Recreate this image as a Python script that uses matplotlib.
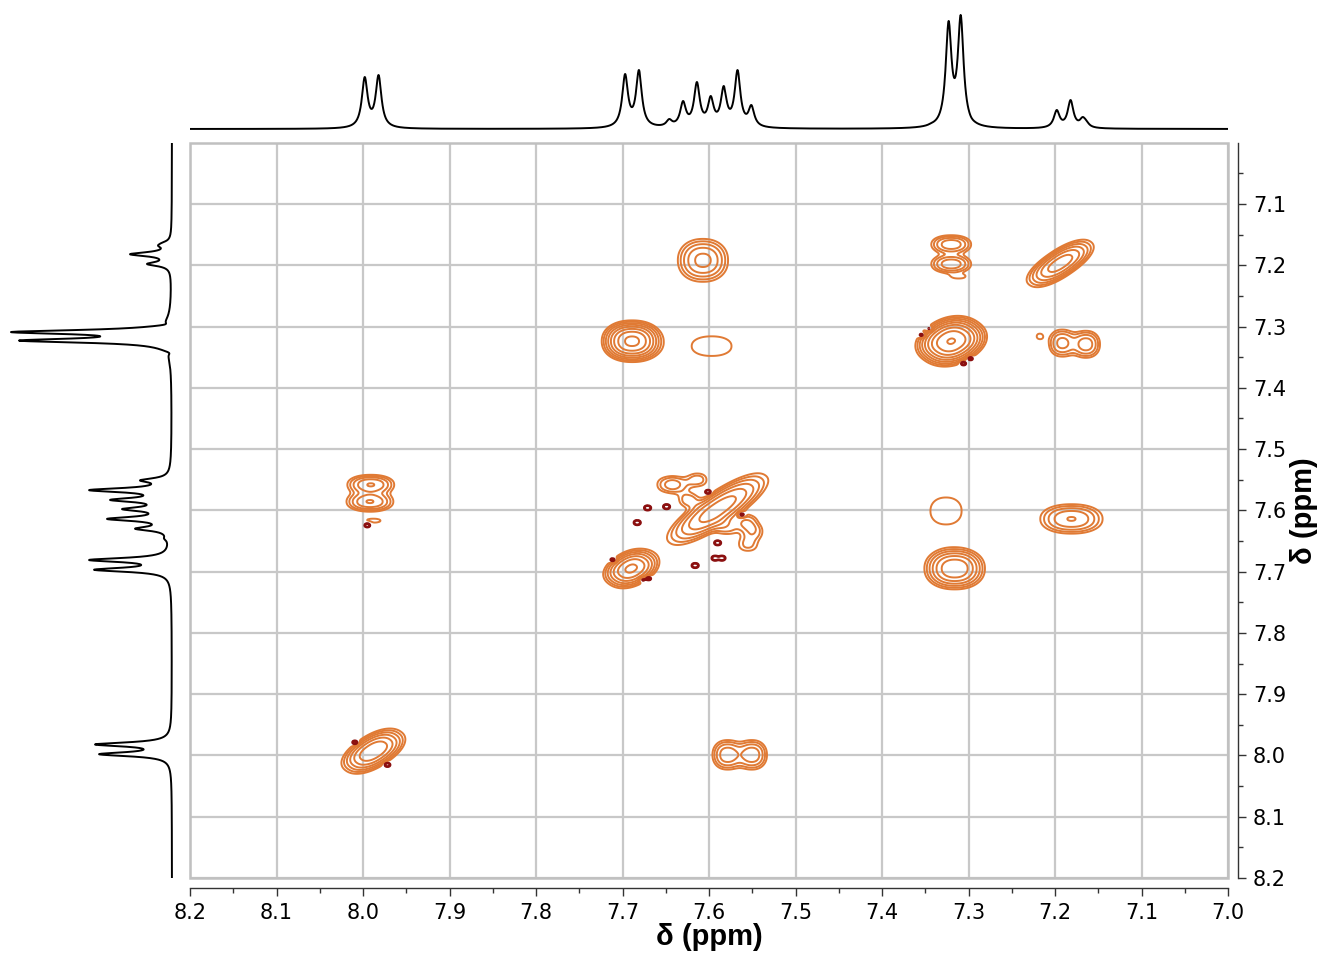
import numpy as np
import matplotlib
matplotlib.use("Agg")
import matplotlib.pyplot as plt
from matplotlib.patches import Rectangle

W, H = 1318, 961

# ---- 1D projections: line positions (ppm) and heights (px)
proj_ppm = [7.998, 7.982, 7.697, 7.681, 7.646, 7.630, 7.614, 7.598, 7.583,
            7.567, 7.551, 7.343, 7.323, 7.309, 7.297, 7.198, 7.182, 7.168, 7.164]
top_heights = [52, 54, 55, 59, 10, 28, 47, 33, 43, 59, 24, 6, 108, 114, 12,
               19, 29, 12, 9]
left_heights = [73, 77, 78, 83, 8, 37, 65, 50, 62, 83, 32, 3, 153, 161, 8,
                25, 42, 14, 11]
line_hwhm = 0.004

# ---- 2D COSY peaks (positive): F2, F1, amplitude, half-size along/across, diagonal
pos_f2 = [7.988, 7.690, 7.590, 7.320, 7.194,
          7.689, 7.607, 7.597, 7.320, 7.320, 7.311, 7.192, 7.164, 7.218,
          7.181, 7.326, 7.991, 7.992, 7.988, 7.579, 7.550, 7.316,
          7.649, 7.636, 7.624, 7.613, 7.579, 7.556, 7.549, 7.555]
pos_f1 = [7.993, 7.695, 7.598, 7.324, 7.197,
          7.324, 7.192, 7.332, 7.166, 7.198, 7.219, 7.327, 7.329, 7.316,
          7.614, 7.601, 7.558, 7.586, 7.617, 7.999, 7.999, 7.695,
          7.558, 7.558, 7.583, 7.550, 7.628, 7.619, 7.635, 7.656]
pos_amp = [9, 10, 8, 20, 8,
           15, 5, 1.25, 4, 4, 1.1, 3.5, 3.8, 1.15,
           4.5, 1.3, 4.5, 4.5, 1.1, 4, 4, 9,
           1.6, 1.6, 1.8, 1.8, 1.6, 2.0, 1.8, 1.6]
pos_hu = [0.045, 0.036, 0.078, 0.044, 0.050,
          0.035, 0.029, 0.023, 0.023, 0.023, 0.005, 0.015, 0.016, 0.003,
          0.036, 0.018, 0.027, 0.027, 0.008, 0.017, 0.017, 0.035,
          0.010, 0.010, 0.010, 0.010, 0.010, 0.011, 0.010, 0.010]
pos_hv = [0.024, 0.026, 0.024, 0.036, 0.020,
          0.034, 0.035, 0.016, 0.015, 0.015, 0.002, 0.022, 0.022, 0.004,
          0.024, 0.022, 0.016, 0.016, 0.003, 0.024, 0.024, 0.034,
          0.010, 0.010, 0.010, 0.010, 0.010, 0.011, 0.010, 0.010]
pos_diag = [1, 1, 1, 1, 1,
            0, 0, 0, 0, 0, 0, 0, 0, 0,
            0, 0, 0, 0, 0, 0, 0, 0,
            0, 0, 0, 0, 0, 0, 0, 0]

# ---- small negative (dark red) artefacts
neg_f2 = [7.711, 7.677, 7.670, 7.601, 7.649, 7.671, 7.683, 7.562, 7.590,
          7.616, 7.593, 7.585, 7.354, 7.345, 7.306, 7.298, 8.009, 7.972, 7.995]
neg_f1 = [7.681, 7.713, 7.711, 7.570, 7.594, 7.596, 7.620, 7.607, 7.653,
          7.690, 7.678, 7.678, 7.314, 7.304, 7.360, 7.352, 7.979, 8.015, 7.624]
neg_amp = [3.0] * len(neg_f2)
neg_half = [0.004] * len(neg_f2)

SHAPE_P = 2.2
levels = 1.45 ** np.arange(9)
orange = "#E07A34"
darkred = "#8B1010"
gridgray = "#C8C8C8"


def lorentz(x, x0, g):
    return 1.0 / (1.0 + ((x - x0) / g) ** 2)


def projection(axis_ppm, heights):
    pos = np.array(proj_ppm)
    m = lorentz(pos[:, None], pos[None, :], line_hwhm)
    amps = np.linalg.solve(m, np.array(heights, float))
    spec = np.zeros_like(axis_ppm)
    for a, p in zip(amps, pos):
        spec += a * lorentz(axis_ppm, p, line_hwhm)
    return spec


def peak_field(X, Y, f2, f1, amp, hu, hv, diag):
    Z = np.zeros_like(X)
    for x0, y0, a, u0, v0, d in zip(f2, f1, amp, hu, hv, diag):
        dx, dy = X - x0, Y - y0
        if d:
            u, v = (dx + dy) / np.sqrt(2), (dx - dy) / np.sqrt(2)
        else:
            u, v = dx, dy
        k = np.log(abs(a)) ** (1.0 / SHAPE_P)
        su, sv = u0 / k, v0 / k
        Z += a * np.exp(-(np.abs(u / su) ** SHAPE_P + np.abs(v / sv) ** SHAPE_P))
    return Z


def px_rect(x0, y0, x1, y1):
    return [x0 / W, 1 - y1 / H, (x1 - x0) / W, (y1 - y0) / H]


fig = plt.figure(figsize=(W / 100, H / 100), dpi=100)

# main 2D panel
ax = fig.add_axes(px_rect(190, 142.7, 1228, 878))
g = np.linspace(7.0, 8.2, 1000)
X, Y = np.meshgrid(g, g)
Z = peak_field(X, Y, pos_f2, pos_f1, pos_amp, pos_hu, pos_hv, pos_diag)
Z -= peak_field(X, Y, neg_f2, neg_f1, neg_amp, neg_half, neg_half,
                [0] * len(neg_f2))
ax.contour(X, Y, Z, levels=levels, colors=orange, linewidths=1.4)
ax.contour(X, Y, Z, levels=-levels[:2][::-1], colors=darkred,
           linewidths=1.6, linestyles="solid")

ax.set_xlim(8.2, 7.0)
ax.set_ylim(8.2, 7.0)
ax.set_xticks(np.round(np.arange(7.0, 8.21, 0.1), 1))
ax.set_xticks(np.round(np.arange(7.05, 8.2, 0.1), 2), minor=True)
ax.set_yticks(np.round(np.arange(7.1, 8.21, 0.1), 1))
ax.set_yticks(np.round(np.arange(7.05, 8.2, 0.1), 2), minor=True)
ax.xaxis.set_major_formatter(plt.FormatStrFormatter("%.1f"))
ax.yaxis.set_major_formatter(plt.FormatStrFormatter("%.1f"))
ax.yaxis.tick_right()
ax.yaxis.set_label_position("right")
ax.grid(True, which="major", color=gridgray, lw=1.6)
ax.set_axisbelow(True)
for s in ["top", "left"]:
    ax.spines[s].set_visible(False)
for s in ["bottom", "right"]:
    ax.spines[s].set_position(("outward", 7))
    ax.spines[s].set_color("#333333")
    ax.spines[s].set_linewidth(1.0)
ax.add_patch(Rectangle((0, 0), 1, 1, transform=ax.transAxes, fill=False,
                       ec="#C0C0C0", lw=1.8, clip_on=False, zorder=3))
ax.tick_params(which="major", direction="out", length=6, width=1,
               color="#333333", labelsize=15, pad=5)
ax.tick_params(which="minor", direction="out", length=3.5, width=1,
               color="#333333")
ax.set_xlabel("δ (ppm)", fontfamily="Liberation Sans", fontweight="bold",
              fontsize=21, labelpad=0)
ax.set_ylabel("δ (ppm)", fontfamily="Liberation Sans", fontweight="bold",
              fontsize=21, labelpad=3)

# top projection
ppm = np.linspace(7.0, 8.2, 4000)
ax_top = fig.add_axes(px_rect(190, 0, 1228, 135))
ax_top.plot(ppm, projection(ppm, top_heights), color="black", lw=1.4)
ax_top.set_xlim(8.2, 7.0)
ax_top.set_ylim(-6, 129)
ax_top.axis("off")

# left projection
ax_left = fig.add_axes(px_rect(0, 142.7, 178, 878))
ax_left.plot(-projection(ppm, left_heights), ppm, color="black", lw=1.4)
ax_left.set_xlim(-172, 6)
ax_left.set_ylim(8.2, 7.0)
ax_left.axis("off")

fig.savefig("out.png", dpi=100)
